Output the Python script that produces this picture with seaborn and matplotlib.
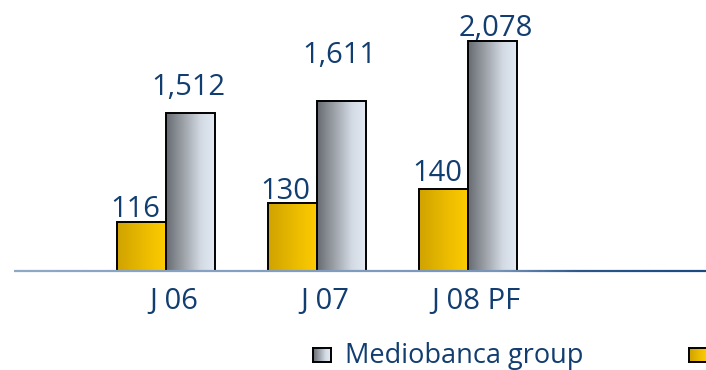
import numpy as np
import pandas as pd
import matplotlib
matplotlib.use("Agg")
import matplotlib.pyplot as plt
from matplotlib.colors import LinearSegmentedColormap
from matplotlib.collections import LineCollection
import seaborn as sns

# ---- data -------------------------------------------------------------
periods = ["J 06", "J 07", "J 08 PF"]
group_values = [1512, 1611, 2078]        # Mediobanca group
unit_values = [116, 130, 140]            # business unit (right scale)
group_name = "Mediobanca group"
unit_name = "Business unit"

# ---- style ------------------------------------------------------------
sns.set_style("white")
plt.rcParams["font.family"] = ["Open Sans", "DejaVu Sans"]
NAVY = "#113d70"
FS = 21

gold_cmap = LinearSegmentedColormap.from_list(
    "gold", ["#cfa200", "#e8b900", "#ffcc00"])
grey_cmap = LinearSegmentedColormap.from_list(
    "grey", [(0.0, "#676b71"), (0.35, "#9da2a9"), (0.7, "#d3dae3"), (1.0, "#e3ebf5")])

W, H = 706, 370
fig = plt.figure(figsize=(W / 100, H / 100), dpi=100)
base_px = 270
ax1 = fig.add_axes([0, (H - base_px) / H, 1, base_px / H])

df = pd.DataFrame({
    "period": periods * 2,
    "series": [unit_name] * 3 + [group_name] * 3,
    "value": unit_values + group_values,
})
hue_order = [unit_name, group_name]
bar_width = 0.649

sns.barplot(data=df[df.series == group_name], x="period", y="value",
            hue="series", hue_order=hue_order, order=periods, dodge=True,
            width=bar_width, errorbar=None, legend=False, ax=ax1)
ax2 = ax1.twinx()
sns.barplot(data=df[df.series == unit_name], x="period", y="value",
            hue="series", hue_order=hue_order, order=periods, dodge=True,
            width=bar_width, errorbar=None, legend=False, ax=ax2)


def gradient_bars(ax, cmap):
    grad = np.linspace(0, 1, 256).reshape(1, -1)
    bars = sorted(ax.patches, key=lambda p: p.get_x())
    for p in bars:
        x, y, w, h = p.get_x(), p.get_y(), p.get_width(), p.get_height()
        ax.imshow(grad, extent=[x, x + w, y, y + h], aspect="auto",
                  cmap=cmap, interpolation="bicubic", zorder=1.5)
        p.set_facecolor("none")
        p.set_edgecolor("black")
        p.set_linewidth(1.4)
        p.set_zorder(2)
    return bars


grey_bars = gradient_bars(ax1, grey_cmap)
gold_bars = gradient_bars(ax2, gold_cmap)

# scales (left: group, right: business unit)
ax1.set_xlim(-1.101, 3.574)
ax1.set_ylim(286, 2398.7)
ax2.set_ylim(81.4, 277.6)

# value labels (offsets in pixels)
grey_offsets = [(-2, 18), (-2, 38), (3, 5)]
gold_offsets = [(-7, 5), (-7, 4), (-6, 8)]
for bar, v, (dx, dy) in zip(grey_bars, group_values, grey_offsets):
    ax1.annotate(f"{v:,}", xy=(bar.get_x() + bar.get_width() / 2, v),
                 xytext=(dx, dy), textcoords="offset pixels",
                 ha="center", va="baseline", fontsize=FS, color=NAVY)
for bar, v, (dx, dy) in zip(gold_bars, unit_values, gold_offsets):
    ax2.annotate(f"{v:,}", xy=(bar.get_x() + bar.get_width() / 2, v),
                 xytext=(dx, dy), textcoords="offset pixels",
                 ha="center", va="baseline", fontsize=FS, color=NAVY)

# axes cosmetics
ax1.set_xticks(np.arange(len(periods)) + 0.05)
ax1.set_xticklabels(periods)
ax1.tick_params(axis="x", length=0, pad=12, labelsize=FS, labelcolor=NAVY)
ax1.tick_params(axis="y", left=False, labelleft=False)
ax2.tick_params(axis="both", left=False, right=False, bottom=False,
                labelright=False, labelleft=False, labelbottom=False)
for a in (ax1, ax2):
    a.set_xlabel("")
    a.set_ylabel("")
    for s in a.spines.values():
        s.set_visible(False)
    a.patch.set_alpha(0)

# baseline with a light-to-dark blue gradient
xs = np.linspace(14, W, 300) / W
yb = (H - base_px - 0.5) / H
pts = np.array([[x, yb] for x in xs])
segs = np.stack([pts[:-1], pts[1:]], axis=1)
line_cmap = LinearSegmentedColormap.from_list(
    "axisline", [(0.0, "#8fa8c6"), (0.7, "#7896ba"), (0.82, "#2b5789"), (1.0, "#1b4a80")])
lc = LineCollection(segs, colors=line_cmap(np.linspace(0, 1, len(segs))),
                    linewidths=1.6, transform=fig.transFigure, zorder=5)
fig.add_artist(lc)


# legend keys
def legend_key(x_px, cmap):
    kax = fig.add_axes([x_px / W, (H - 362) / H, 18 / W, 14 / H])
    kax.imshow(np.linspace(0, 1, 64).reshape(1, -1), aspect="auto", cmap=cmap)
    kax.set_xticks([])
    kax.set_yticks([])
    for s in kax.spines.values():
        s.set_visible(True)
        s.set_color("black")
        s.set_linewidth(1.4)


legend_key(313, grey_cmap)
fig.text(345 / W, (H - 363) / H, group_name, fontsize=19.5, color=NAVY,
         ha="left", va="baseline")
legend_key(689, gold_cmap)

fig.savefig("out.png", dpi=100)
